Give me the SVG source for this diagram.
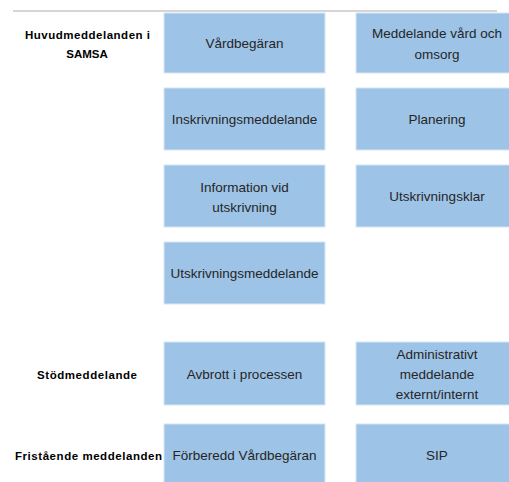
<svg xmlns="http://www.w3.org/2000/svg" width="509" height="482" viewBox="0 0 509 482">
<style>
.box{fill:#9dc3e6;stroke:#d6e6f5;stroke-width:1}
.t{font-family:"Liberation Sans",Arial,sans-serif;font-size:13.5px;fill:#262626;text-anchor:middle}
.l{font-family:"Liberation Sans",Arial,sans-serif;font-size:11.5px;font-weight:bold;fill:#000;text-anchor:middle}
</style>
<rect width="509" height="482" fill="#ffffff"/>
<line x1="13" y1="11" x2="497" y2="11" stroke="#c8c8c8" stroke-width="1.5"/>
<g id="labels">
<text class="l" x="87.5" y="39" textLength="125" lengthAdjust="spacing">Huvudmeddelanden i</text>
<text class="l" x="87" y="58">SAMSA</text>
<text class="l" x="87" y="379" textLength="100" lengthAdjust="spacing">Stödmeddelande</text>
<text class="l" x="88.5" y="460" textLength="147" lengthAdjust="spacing">Fristående meddelanden</text>
</g>
<g id="n1"><rect class="box" x="164" y="13" width="161" height="60"/><text class="t" x="244.5" y="48">Vårdbegäran</text></g>
<g id="n2"><rect class="box" x="356" y="13" width="154" height="60"/><text class="t" x="437" y="38">Meddelande vård och</text><text class="t" x="437" y="59">omsorg</text></g>
<g id="n3"><rect class="box" x="164" y="88" width="161" height="62"/><text class="t" x="244.5" y="124">Inskrivningsmeddelande</text></g>
<g id="n4"><rect class="box" x="356" y="88" width="154" height="62"/><text class="t" x="437" y="124">Planering</text></g>
<g id="n5"><rect class="box" x="164" y="165" width="161" height="62"/><text class="t" x="244.5" y="192">Information vid</text><text class="t" x="244.5" y="212">utskrivning</text></g>
<g id="n6"><rect class="box" x="356" y="165" width="154" height="62"/><text class="t" x="437" y="201">Utskrivningsklar</text></g>
<g id="n7"><rect class="box" x="164" y="242" width="161" height="62"/><text class="t" x="244.5" y="278">Utskrivningsmeddelande</text></g>
<g id="n8"><rect class="box" x="164" y="342" width="161" height="63"/><text class="t" x="244.5" y="379">Avbrott i processen</text></g>
<g id="n9"><rect class="box" x="356" y="342" width="154" height="63"/><text class="t" x="437" y="359">Administrativt</text><text class="t" x="437" y="379">meddelande</text><text class="t" x="437" y="399">externt/internt</text></g>
<g id="n10"><rect class="box" x="164" y="424" width="161" height="60"/><text class="t" x="244.5" y="460">Förberedd Vårdbegäran</text></g>
<g id="n11"><rect class="box" x="356" y="424" width="154" height="60"/><text class="t" x="437" y="460">SIP</text></g>
<g id="connectors"></g>
</svg>
